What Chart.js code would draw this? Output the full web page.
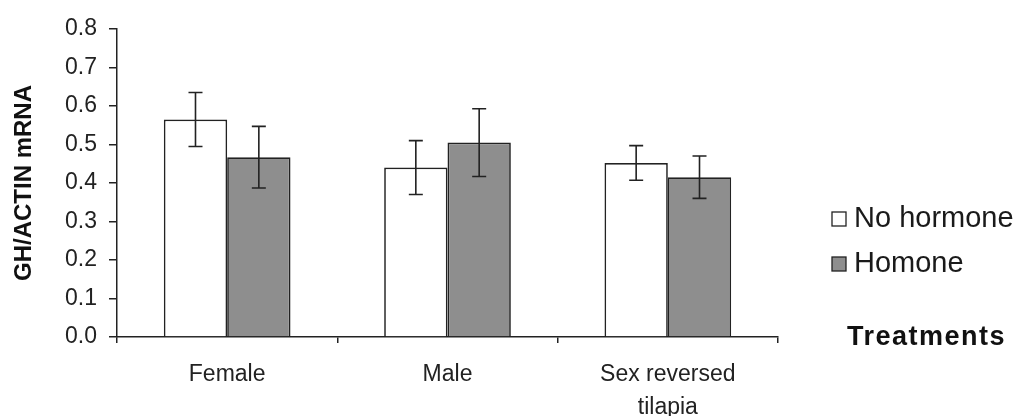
<!DOCTYPE html>
<html>
<head>
<meta charset="utf-8">
<script src="https://cdn.jsdelivr.net/npm/chart.js@4.4.0/dist/chart.umd.min.js"></script>
<style>
  html, body { margin: 0; padding: 0; background: #fff; }
  #wrap { width: 1023px; height: 416px; }
</style>
</head>
<body>
<div id="wrap"><canvas id="geneChart" width="1023" height="416"></canvas></div>
<script>
// Values
const categories = ['Female', 'Male', ['Sex reversed', 'tilapia']];
const noHormone = [0.565, 0.44, 0.452];
const noHormoneErr = [0.07, 0.07, 0.045];
const hormone = [0.467, 0.505, 0.415];
const hormoneErr = [0.08, 0.088, 0.055];
const seriesNames = ['No hormone', 'Homone'];
const yTickValues = [0, 0.1, 0.2, 0.3, 0.4, 0.5, 0.6, 0.7, 0.8];

const ink = '#222';
const fontFamily = '"Liberation Sans", Arial, sans-serif';

// error bars drawn on top of every bar
const errorBars = {
    id: 'errorBars',
    afterDatasetsDraw(chart) {
        const ctx = chart.ctx;
        const y = chart.scales.y;
        ctx.save();
        ctx.strokeStyle = ink;
        ctx.lineWidth = 1.6;
        chart.data.datasets.forEach((ds, i) => {
            const meta = chart.getDatasetMeta(i);
            meta.data.forEach((bar, j) => {
                const v = ds.data[j], e = ds.errors[j];
                const top = y.getPixelForValue(v + e);
                const bot = y.getPixelForValue(v - e);
                const cap = 7;
                ctx.beginPath();
                ctx.moveTo(bar.x, top); ctx.lineTo(bar.x, bot);
                ctx.moveTo(bar.x - cap, top); ctx.lineTo(bar.x + cap, top);
                ctx.moveTo(bar.x - cap, bot); ctx.lineTo(bar.x + cap, bot);
                ctx.stroke();
            });
        });
        ctx.restore();
    }
};

// legend + "Treatments" at the right side
const sideLegend = {
    id: 'sideLegend',
    afterDraw(chart) {
        const ctx = chart.ctx;
        const area = chart.chartArea;
        ctx.save();
        const x0 = area.right + 54;
        const rows = [218, 263];
        ctx.textBaseline = 'middle';
        ctx.font = '29px ' + fontFamily;
        chart.data.datasets.forEach((ds, i) => {
            ctx.fillStyle = ds.backgroundColor;
            ctx.fillRect(x0, rows[i] - 6, 14, 14);
            ctx.strokeStyle = ink;
            ctx.lineWidth = 1.3;
            ctx.strokeRect(x0, rows[i] - 6, 14, 14);
            ctx.fillStyle = '#1a1a1a';
            ctx.fillText(ds.label, x0 + 22, rows[i] + 1);
        });
        ctx.font = 'bold 27px ' + fontFamily;
        ctx.fillStyle = '#111';
        ctx.letterSpacing = '1.5px';
        ctx.fillText('Treatments', x0 + 15, area.bottom + 1);
        ctx.restore();
    }
};

const data = {
    labels: categories,
    datasets: [{
        label: seriesNames[0],
        data: noHormone,
        errors: noHormoneErr,
        backgroundColor: '#ffffff',
        borderColor: ink,
        borderWidth: 1.7
    }, {
        label: seriesNames[1],
        data: hormone,
        errors: hormoneErr,
        backgroundColor: '#8e8e8e',
        borderColor: ink,
        borderWidth: 1.7
    }]
};

const config = {
    type: 'bar',
    data: data,
    options: {
        responsive: false,
        animation: false,
        categoryPercentage: 0.575,
        barPercentage: 1.0,
        layout: { padding: { top: 29, right: 245, left: 0, bottom: 0 } },
        plugins: {
            legend: { display: false },
            tooltip: { enabled: false }
        },
        scales: {
            x: {
                grid: { drawOnChartArea: false, offset: true, tickLength: 6, color: ink, lineWidth: 1.5 },
                border: { color: ink, width: 1.5 },
                ticks: {
                    color: '#222',
                    padding: 15,
                    maxRotation: 0,
                    font: { family: fontFamily, size: 23, lineHeight: 1.45 }
                },
                afterFit(scale) { scale.height = 79; }
            },
            y: {
                min: 0,
                max: 0.8,
                afterBuildTicks(scale) { scale.ticks = yTickValues.map(v => ({ value: v })); },
                grid: { drawOnChartArea: false, tickLength: 8, color: ink, lineWidth: 1.5 },
                border: { color: ink, width: 1.5 },
                ticks: {
                    color: '#222',
                    padding: 12,
                    callback: v => v.toFixed(1),
                    font: { family: fontFamily, size: 23 }
                },
                title: {
                    display: true,
                    text: 'GH/ACTIN mRNA',
                    color: '#111',
                    padding: { top: 10, bottom: 0 },
                    font: { family: fontFamily, size: 24, weight: 'bold' }
                },
                afterFit(scale) { scale.width = 117; }
            }
        }
    },
    plugins: [errorBars, sideLegend]
};

const geneChart = new Chart(document.getElementById('geneChart').getContext('2d'), config);
</script>
</body>
</html>
